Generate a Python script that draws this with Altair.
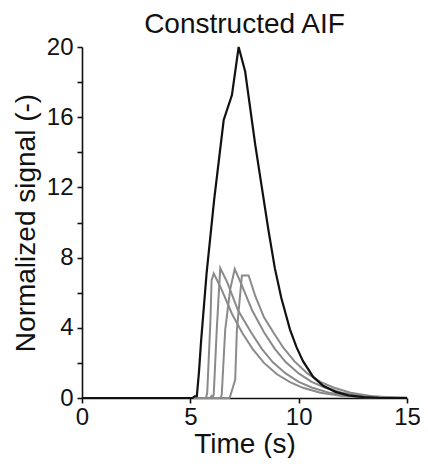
import altair as alt
import pandas as pd

# Constructed AIF (black)
aif_t = [0, 5.1, 5.2, 5.3, 5.4, 5.5, 5.75, 6.1, 6.54, 6.92, 7.23, 7.53, 8.0, 8.3, 8.6, 8.9, 9.2, 9.6, 9.9, 10.2, 10.67, 11.13, 11.7, 12.3, 13.0, 13.7, 15]
aif_v = [0, 0, 0.1, 0.1, 1.5, 3.3, 7.1, 11.3, 15.84, 17.26, 20.0, 18.6, 14.4, 12.0, 9.6, 7.4, 5.7, 3.9, 2.9, 2.1, 1.2, 0.7, 0.35, 0.15, 0.05, 0.01, 0]

# Gray dispersed / delayed curves
a_t = [0, 5.72, 5.78, 5.93, 5.98, 6.08, 6.4, 6.92, 7.4, 7.9, 8.4, 9.0, 9.6, 10.2, 11.0, 12.0, 13.0, 14.0, 15]
a_v = [0, 0, 0.3, 4.5, 6.7, 7.1, 6.3, 4.8, 3.7, 2.75, 2.0, 1.35, 0.9, 0.58, 0.3, 0.12, 0.04, 0.01, 0]

b_t = [0, 5.92, 5.98, 6.04, 6.08, 6.22, 6.38, 6.7, 7.2, 7.8, 8.3, 8.8, 9.4, 10.0, 10.6, 11.4, 12.4, 13.4, 14.4, 15]
b_v = [0, 0, 0.12, 0.08, 0.2, 3.9, 7.4, 6.6, 5.0, 3.75, 2.8, 2.05, 1.4, 0.92, 0.6, 0.3, 0.12, 0.04, 0.01, 0]

c_t = [0, 6.4, 6.45, 6.61, 6.84, 7.05, 7.35, 7.85, 8.4, 8.9, 9.4, 10.0, 10.6, 11.2, 12.0, 13.0, 14.0, 15]
c_v = [0, 0, 0.2, 3.9, 6.2, 7.35, 6.5, 5.0, 3.75, 2.8, 2.05, 1.4, 0.92, 0.6, 0.3, 0.12, 0.04, 0.01]

d_t = [0, 6.8, 6.84, 7.07, 7.15, 7.38, 7.69, 8.0, 8.4, 8.85, 9.3, 9.8, 10.4, 11.0, 11.6, 12.4, 13.4, 14.4, 15]
d_v = [0, 0, 0.1, 1.04, 3.9, 6.98, 6.98, 5.8, 4.6, 3.7, 2.85, 2.1, 1.4, 0.92, 0.6, 0.3, 0.1, 0.03, 0.01]

gray_sets = [("A", a_t, a_v), ("B", b_t, b_v), ("C", c_t, c_v), ("D", d_t, d_v)]
gray_rows = []
for name, ts, vs in gray_sets:
    for i, (t, v) in enumerate(zip(ts, vs)):
        gray_rows.append({"series": name, "t": t, "v": v, "order": i})
gray_df = pd.DataFrame(gray_rows)
aif_df = pd.DataFrame({"t": aif_t, "v": aif_v, "order": list(range(len(aif_t)))})

FONT = "Liberation Sans"

x_enc = alt.X("t:Q", title="Time (s)",
              scale=alt.Scale(domain=[0, 15], nice=False),
              axis=alt.Axis(values=[0, 5, 10, 15], format="d", labelFlush=False))
y_enc = alt.Y("v:Q", title="Normalized signal (-)",
              scale=alt.Scale(domain=[0, 20], nice=False),
              axis=alt.Axis(values=list(range(0, 21, 2)), labelFlush=False,
                            labelExpr="datum.value % 4 == 0 ? datum.label : ''"))

gray = alt.Chart(gray_df).mark_line(color="#8a8a8a", strokeWidth=2).encode(
    x=x_enc, y=y_enc, detail="series:N", order="order:Q")
black = alt.Chart(aif_df).mark_line(color="#111111", strokeWidth=2.2).encode(
    x=x_enc, y=y_enc, order="order:Q")

chart = alt.layer(gray, black).properties(
    width=325, height=351,
    title=alt.TitleParams("Constructed AIF", font=FONT, fontSize=28,
                          fontWeight="normal", color="#111", offset=-4),
    autosize=alt.AutoSizeParams(type="none"),
    padding={"left": 74, "top": 39, "right": 13, "bottom": 60},
).configure_view(stroke=None).configure_axis(
    grid=False, domainColor="#111", domainWidth=1.6, tickColor="#111",
    tickWidth=1.6, tickSize=5, labelFont=FONT, labelFontSize=24,
    labelColor="#111", titleFont=FONT, titleFontSize=28,
    titleFontWeight="normal", titleColor="#111",
).configure_axisX(labelPadding=2, titlePadding=1).configure_axisY(
    labelPadding=4, titlePadding=6)

chart.save("out.html", embed_options={"renderer": "svg", "actions": False})
